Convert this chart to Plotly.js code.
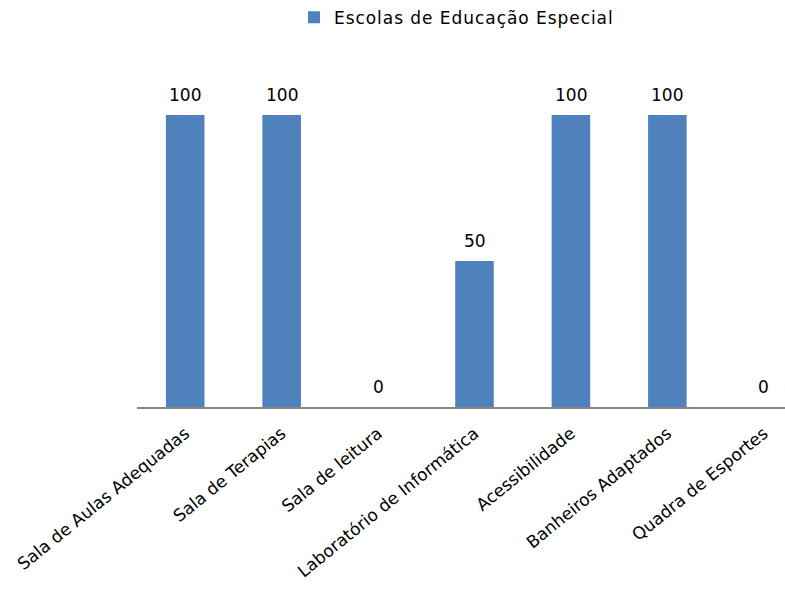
<!DOCTYPE html>
<html><head><meta charset="utf-8">
<script src="https://cdn.plot.ly/plotly-3.0.1.min.js"></script>
<style>html,body{margin:0;padding:0;background:#fff}
.legendtext{letter-spacing:0.95px}</style>
</head><body>
<div id="chart" style="width:785px;height:592px"></div>
<script>
const categories = ["Sala de Aulas Adequadas","Sala de Terapias","Sala de leitura","Laboratório de Informática","Acessibilidade","Banheiros Adaptados","Quadra de Esportes"];
const values = [100,100,0,50,100,100,0];
const seriesName = "Escolas de Educação Especial";

const fontFam = "DejaVu Sans, sans-serif";
const trace = {
  type: "bar", x: categories, y: values, name: seriesName,
  marker: {color: "#4F81BD"},
  showlegend: true, hoverinfo: "none"
};
const annotations = categories.map((c, i) => ({
  x: c, y: values[i], xref: "x", yref: "y",
  text: String(values[i]), showarrow: false,
  yanchor: "bottom", yshift: 8,
  font: {family: fontFam, size: 17, color: "#000"}
}));
const layout = {
  width: 785, height: 592,
  margin: {l: 137, r: 0, t: 60, b: 185},
  paper_bgcolor: "#fff", plot_bgcolor: "#fff",
  font: {family: fontFam, size: 17, color: "#000"},
  bargap: 0.6,
  showlegend: true,
  legend: {orientation: "h", x: 0.493, xanchor: "center", xref: "paper", yref: "container", y: 0.97, yanchor: "middle", font: {family: fontFam, size: 17}},
  annotations: annotations,
  xaxis: {range: [-0.5, 6.22], showline: true, linecolor: "#868686", linewidth: 2, ticks: "outside", ticklen: 8, tickcolor: "rgba(0,0,0,0)", tickangle: -39, tickfont: {family: fontFam, size: 17}, showgrid: false, zeroline: false},
  yaxis: {range: [0, 118.8], visible: false, showgrid: false, zeroline: false}
};
Plotly.newPlot("chart", [trace], layout, {displayModeBar: false, staticPlot: true});
</script>
</body></html>
